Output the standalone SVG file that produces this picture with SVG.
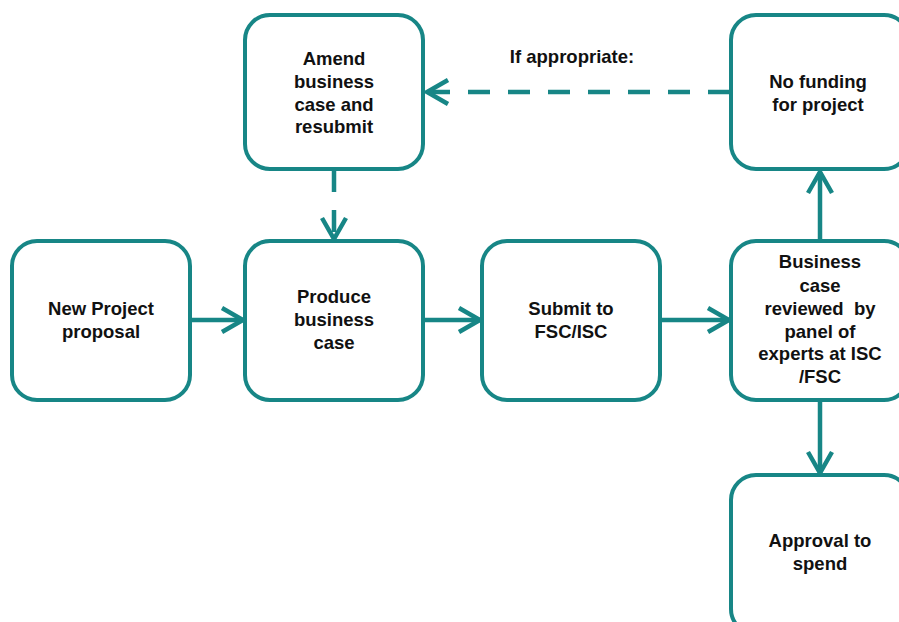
<svg xmlns="http://www.w3.org/2000/svg" width="899" height="622" viewBox="0 0 899 622">
<style>
.box{fill:#fff;stroke:#178686;stroke-width:4}
.t{font-family:"Liberation Sans",Arial,sans-serif;font-weight:bold;font-size:18.5px;fill:#111;text-anchor:middle}
.c{fill:none;stroke:#178686;stroke-width:4.5}
.d{stroke-dasharray:22 18}
</style>
<defs>
<marker id="ah" markerUnits="userSpaceOnUse" viewBox="-26 -15 30 30" refX="0" refY="0" markerWidth="30" markerHeight="30" orient="auto">
<path d="M-21,-12 L0,0 L-21,12" fill="none" stroke="#178686" stroke-width="4.5"/>
</marker>
</defs>
<rect width="899" height="622" fill="#fff"/>
<g id="connectors">
<path class="c" d="M190,320 H243" marker-end="url(#ah)"/>
<path class="c" d="M423,320 H480" marker-end="url(#ah)"/>
<path class="c" d="M660,320 H729" marker-end="url(#ah)"/>
<path class="c" d="M820,241 V172" marker-end="url(#ah)"/>
<path class="c" d="M820,400 V473" marker-end="url(#ah)"/>
<path class="c d" d="M730,92 H427" marker-end="url(#ah)"/>
<path class="c d" d="M334,170 V239" marker-end="url(#ah)"/>
<text class="t" x="572" y="63">If appropriate:</text>
</g>
<g id="n-new">
<rect class="box" x="12" y="241" width="178" height="159" rx="25"/>
<text class="t" x="101" y="315">New Project</text>
<text class="t" x="101" y="338">proposal</text>
</g>
<g id="n-produce">
<rect class="box" x="245" y="241" width="178" height="159" rx="25"/>
<text class="t" x="334" y="303">Produce</text>
<text class="t" x="334" y="326">business</text>
<text class="t" x="334" y="349">case</text>
</g>
<g id="n-submit">
<rect class="box" x="482" y="241" width="178" height="159" rx="25"/>
<text class="t" x="571" y="315">Submit to</text>
<text class="t" x="571" y="338">FSC/ISC</text>
</g>
<g id="n-review">
<rect class="box" x="731" y="241" width="178" height="159" rx="25"/>
<text class="t" x="820" y="268">Business</text>
<text class="t" x="820" y="292">case</text>
<text class="t" x="820" y="315" xml:space="preserve">reviewed  by</text>
<text class="t" x="820" y="338">panel of</text>
<text class="t" x="820" y="360">experts at ISC</text>
<text class="t" x="820" y="383">/FSC</text>
</g>
<g id="n-amend">
<rect class="box" x="245" y="15" width="178" height="154" rx="25"/>
<text class="t" x="334" y="65">Amend</text>
<text class="t" x="334" y="88">business</text>
<text class="t" x="334" y="111">case and</text>
<text class="t" x="334" y="133">resubmit</text>
</g>
<g id="n-nofunding">
<rect class="box" x="731" y="15" width="178" height="154" rx="25"/>
<text class="t" x="818" y="88">No funding</text>
<text class="t" x="818" y="111">for project</text>
</g>
<g id="n-approval">
<rect class="box" x="731" y="475" width="178" height="159" rx="25"/>
<text class="t" x="820" y="547">Approval to</text>
<text class="t" x="820" y="570">spend</text>
</g>
</svg>
